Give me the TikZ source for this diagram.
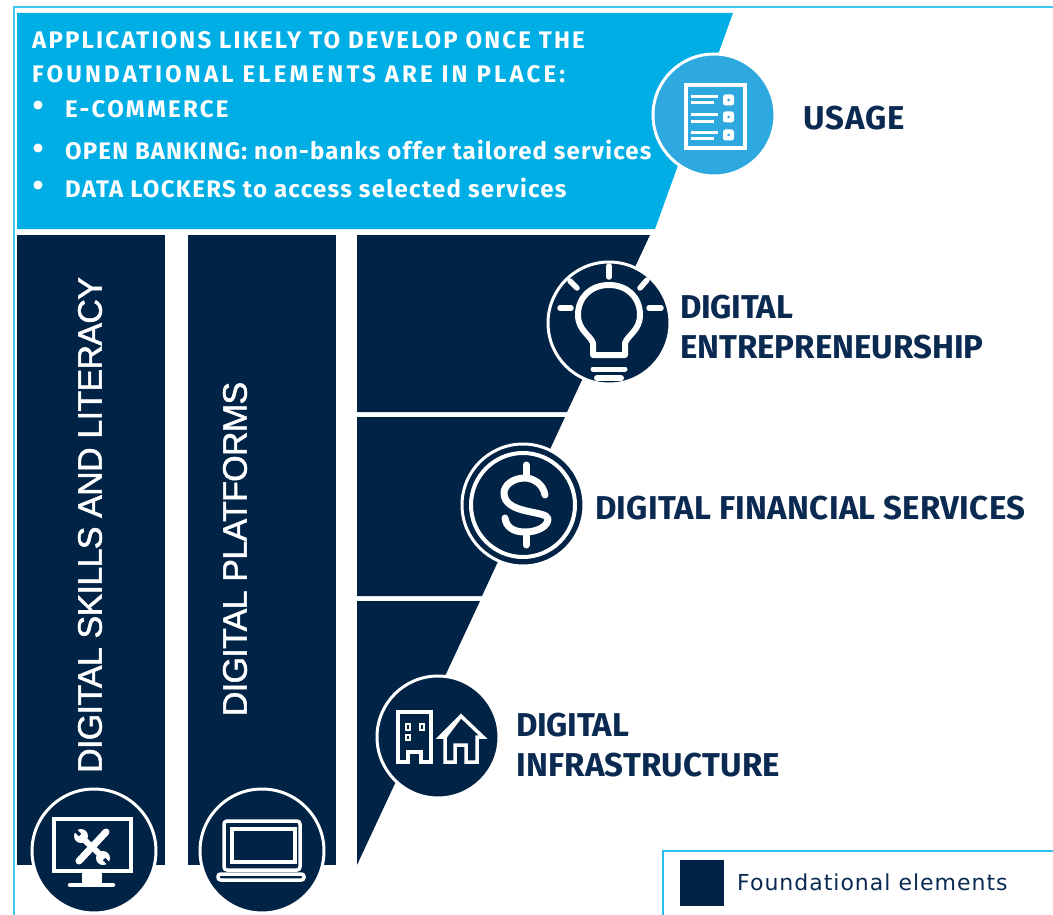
\documentclass[tikz,border=0pt]{standalone}
\usepackage{fontspec}
\setmainfont{Fira Sans}
\newfontfamily\arialf[FakeBold=1.5,LetterSpace=-2]{Liberation Sans}
\newfontfamily\legf[LetterSpace=4.5]{DejaVu Sans}
\newcommand{\lsp}[1]{\addfontfeature{LetterSpace=#1}}
\definecolor{navy}{HTML}{012345}
\definecolor{banner}{HTML}{00AEE6}
\definecolor{usagec}{HTML}{2EA9E0}
\definecolor{framec}{HTML}{3CC5EE}
\definecolor{labelc}{HTML}{0B2A52}
\tikzset{
  ico/.style={draw=white,line width=3.5pt,line join=round,line cap=round,fill=none},
  disc/.style={circle,fill=navy,draw=white,line width=3pt,minimum size=122pt,inner sep=0pt},
  bantext/.style={anchor=base west,text=white,inner sep=0pt,font=\fontsize{24}{24}\selectfont\bfseries},
  lab/.style={anchor=base west,text=labelc,inner sep=0pt,font=\fontsize{33}{33}\selectfont\bfseries},
  coltext/.style={rotate=90,text=white,inner sep=0pt,font=\arialf\fontsize{34}{34}\selectfont}
}
\begin{document}
\begin{tikzpicture}[x=1pt,y=-1pt]
\useasboundingbox (0,0) rectangle (1053,915);
\fill[white] (0,0) rectangle (1053,915);
% frame
\draw[framec,line width=2.5pt] (14,915) -- (14,7) -- (1053,7);
% banner
\fill[banner] (17,13) -- (733,13) -- (655,229) -- (17,229) -- cycle;
% columns
\fill[navy] (17,235) rectangle (165,865);
\fill[navy] (188,235) rectangle (336,865);
\fill[navy] (357,235) -- (650,235) -- (567,412) -- (357,412) -- cycle;
\fill[navy] (357,417) -- (565,417) -- (482,596) -- (357,596) -- cycle;
\fill[navy] (357,601) -- (480,601) -- (357,865) -- cycle;
% banner text
\node[bantext] (h1) at (32,49) {\lsp{9}APPLICATIONS LIKELY TO DEVELOP ONCE THE};
\node[bantext] (h2) at (32,83) {\lsp{13.2}FOUNDATIONAL ELEMENTS ARE IN PLACE:};
\fill[white] (38,105) circle (4.5pt) (38,148) circle (4.5pt) (38,185) circle (4.5pt);
\node[bantext] (b1) at (65,118) {\lsp{9.5}E-COMMERCE};
\node[bantext] (b2) at (65,160) {\lsp{4.8}OPEN BANKING: non-banks offer tailored services};
\node[bantext] (b3) at (65,198) {\lsp{5.4}DATA LOCKERS to access selected services};
% column text
\node[coltext] (c1) at (90,525) {DIGITAL SKILLS AND LITERACY};
\node[coltext] (c2) at (235,549) {DIGITAL PLATFORMS};
% labels
\node[lab] (l1) at (803,130) {\lsp{3}USAGE};
\node[lab] (l2) at (680,318) {\lsp{-1}DIGITAL};
\node[lab] (l3) at (680,358) {ENTREPRENEURSHIP};
\node[lab] (l4) at (595,519) {\lsp{0.8}DIGITAL FINANCIAL SERVICES};
\node[lab] (l5) at (516,736) {\lsp{-1}DIGITAL};
\node[lab] (l6) at (516,776) {\lsp{0.8}INFRASTRUCTURE};
% discs
\node[disc,fill=usagec] (dusage) at (714,115) {};
\node[disc] (dbulb) at (609,323) {};
\node[disc] (ddollar) at (523,505) {};
\node[disc] (dhouse) at (438,737) {};
\node[disc,minimum size=124pt] (dmon) at (94,851) {};
\node[disc,minimum size=124pt] (dlap) at (262,851) {};
% usage icon
\draw[ico,line cap=butt,line join=miter] (686,85) rectangle (745,148);
\foreach \yy/\ya/\yb in {100/97/103,117/115/122,135/133/139}{
  \draw[white,line width=3pt] (691,\ya) -- (718,\ya);
  \draw[white,line width=3pt] (691,\yb) -- (714,\yb);
  \fill[white,rounded corners=2.5pt] (723,\yy-5.5) rectangle (734,\yy+5.5);
  \fill[usagec] (728.5,\yy) circle (1.5pt);
}
% bulb icon
\draw[ico,line width=6pt,line cap=butt] (593,355) -- (593,343) .. controls (590,335) and (578,330) .. (578,315)
  .. controls (578,297) and (591,285) .. (609,285) .. controls (627,285) and (640,297) .. (640,315)
  .. controls (640,330) and (628,335) .. (625,343) -- (625,355) -- cycle;
\draw[ico,line width=5pt] (593,369) -- (625,369);
\draw[ico,line width=6pt] (597,378) -- (621,378);
\draw[ico,line width=5.5pt] (609,266) -- (609,277);
\draw[ico,line width=5.5pt] (570,281) -- (577,288);
\draw[ico,line width=5.5pt] (647,280) -- (640,288);
\draw[ico,line width=5.5pt] (560,308) -- (571,308);
\draw[ico,line width=5.5pt] (649,308) -- (661,308);
% dollar icon
\draw[white,line width=4pt] (ddollar) circle (52pt);
\draw[ico,line width=7pt] (545,495) .. controls (543,483) and (532,478) .. (525,478)
  .. controls (512,478) and (504,486) .. (504,493) .. controls (504,515) and (548,510) .. (548,519)
  .. controls (548,526) and (538,532) .. (525,532) .. controls (512,532) and (506,526) .. (505,518);
\draw[ico,line width=7pt] (526,465) -- (526,477);
\draw[ico,line width=7pt] (526,534) -- (526,545);
% house icon
\draw[ico,line cap=butt,line join=miter] (398,712) -- (431,712) -- (431,762) -- (421,762) -- (421,752) -- (408,752) -- (408,762) -- (398,762) -- cycle;
\draw[white,line width=2pt] (406,724) rectangle (410,730);
\draw[white,line width=2pt] (406,735) rectangle (410,740);
\draw[white,line width=2pt] (420,724) rectangle (424,730);
\draw[ico,line cap=butt,line join=miter] (445,737) -- (461,716) -- (483,737) -- (477,737) -- (477,762) -- (466,762) -- (466,745) -- (455,745) -- (455,762) -- (445,762) -- (445,737) -- (440,737) -- (461,716);
% monitor icon
\draw[ico,line cap=butt,line join=miter] (54,819) rectangle (131,871);
\fill[white] (82,872) rectangle (102,883);
\draw[ico,line width=4.5pt] (70,885) -- (113,885);
\draw[white,line width=7pt,line cap=round] (79,861) -- (106,832);
\draw[white,line width=6pt] (79,835) -- (105,859);
\fill[white] (81,836) circle (7pt) (103,858) circle (7pt);
\draw[navy,line width=3.5pt] (75,830) -- (80,835);
\draw[navy,line width=3.5pt] (109,864) -- (104,859);
% laptop icon
\draw[ico,line width=3.5pt,rounded corners=3pt] (224,821) -- (300,821) -- (300,870) -- (224,870) -- cycle;
\draw[ico,line width=3.5pt,line join=miter] (232,829) rectangle (295,862);
\draw[ico,line width=3.5pt,rounded corners=2.5pt] (218,874) rectangle (304,880);
% legend
\draw[framec!70!banner,line width=2pt] (663,915) -- (663,851) -- (1053,851);
\node[fill=navy,minimum width=44pt,minimum height=46pt,inner sep=0pt] (legbox) at (701.5,882.5) {};
\node[anchor=base west,text=labelc,inner sep=0pt,font=\legf\fontsize{22}{22}\selectfont] (legtext) at (737,890) {Foundational elements};
\end{tikzpicture}
\end{document}
